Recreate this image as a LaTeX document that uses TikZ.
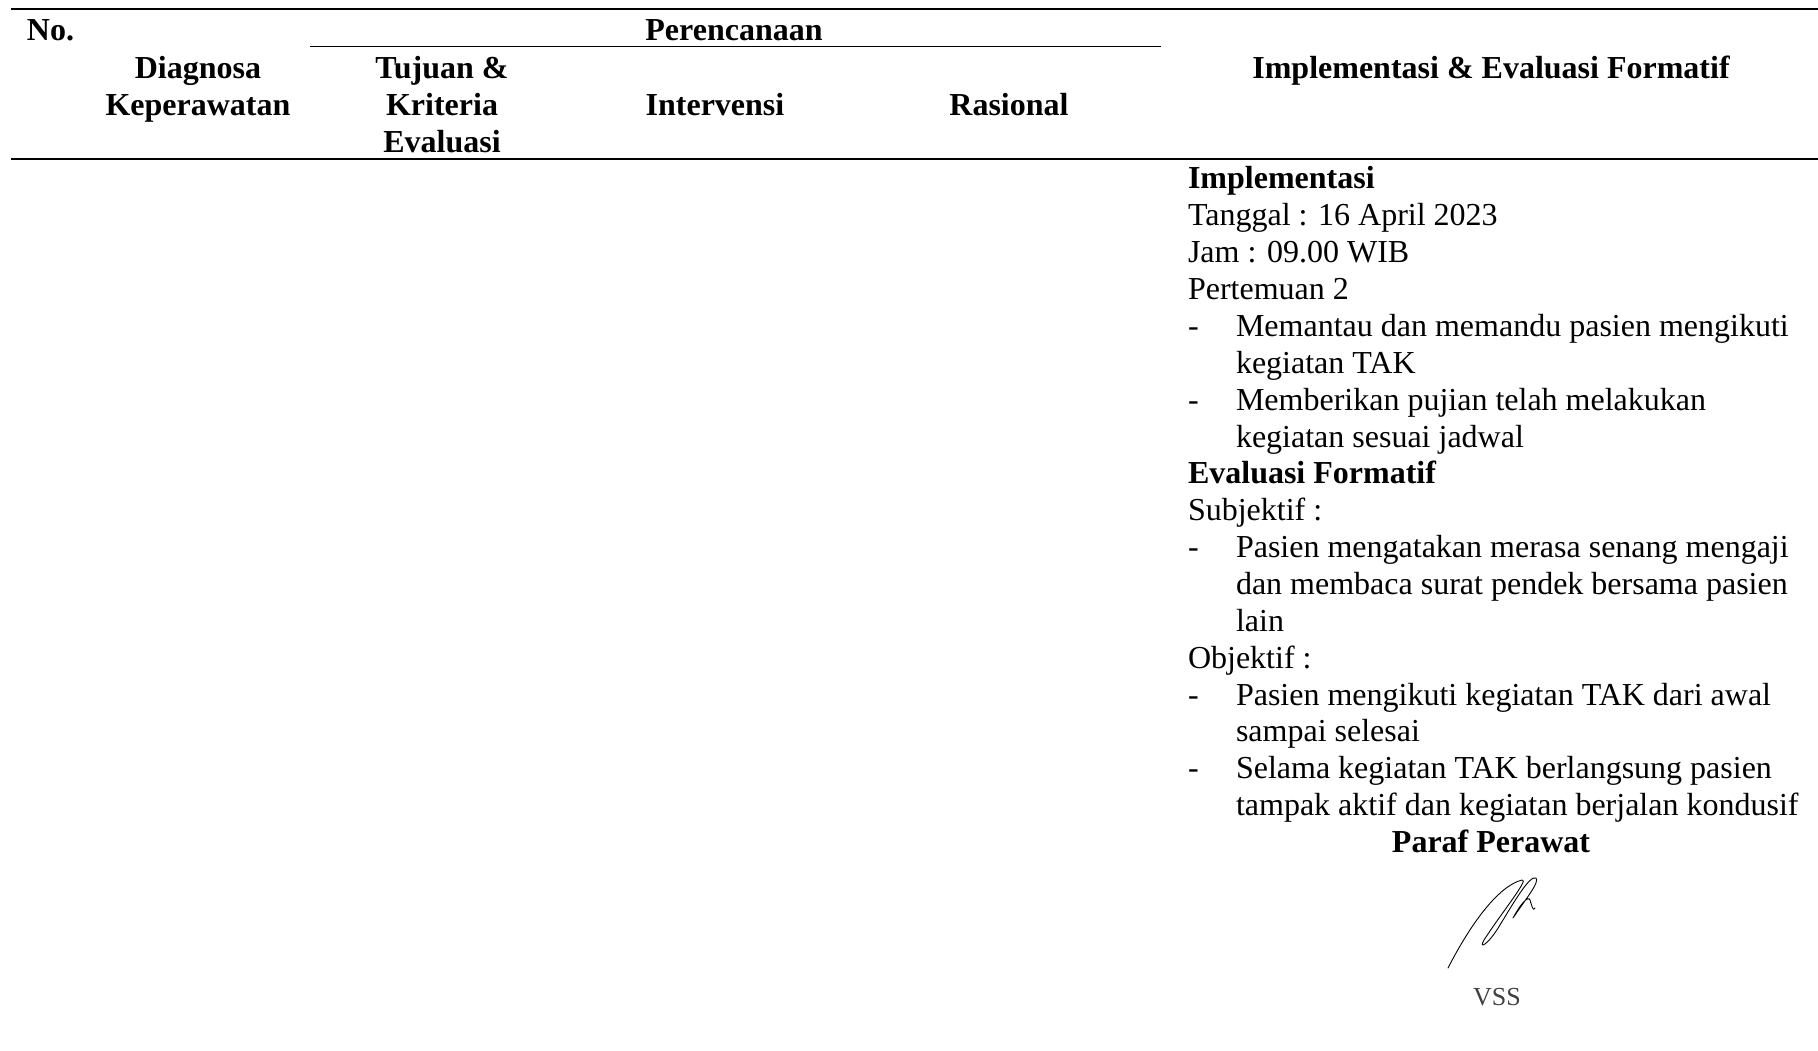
\documentclass[tikz,border=0pt]{standalone}
\usepackage{fontspec}
\setmainfont{Liberation Serif}
\begin{document}
\begin{tikzpicture}[x=1pt,y=-1pt,
  txt/.style={inner sep=0pt, outer sep=0pt, font=\fontsize{32}{37}\selectfont},
  head/.style={txt, font=\fontsize{32}{37}\selectfont\bfseries, anchor=base},
  body/.style={txt, anchor=base west},
  bodyb/.style={body, font=\fontsize{32}{37}\selectfont\bfseries},
  rule/.style={line width=1.7pt},
  thinrule/.style={line width=1.3pt},
  sig/.style={line width=0.9pt, line cap=round, line join=round},
]
\useasboundingbox (0,0) rectangle (1818,1051);

% table rules
\coordinate (topL) at (11,9.3);
\coordinate (topR) at (1818,9.3);
\coordinate (planL) at (310,46.7);
\coordinate (planR) at (1161,46.7);
\coordinate (midL) at (11,159);
\coordinate (midR) at (1818,159);
\draw[rule] (topL) -- (topR);
\draw[thinrule] (planL) -- (planR);
\draw[rule] (midL) -- (midR);

% header
\node[head, anchor=base west] (hNo) at (27,41) {No.};
\node[head] (hPlan) at (734,41) {Perencanaan};
\node[head] (hDiag1) at (198,78.5) {Diagnosa};
\node[head] (hDiag2) at (198,115.5) {Keperawatan};
\node[head] (hTuj1) at (442,78.5) {Tujuan \&};
\node[head] (hTuj2) at (442,115.5) {Kriteria};
\node[head] (hTuj3) at (442,152.5) {Evaluasi};
\node[head] (hInt) at (715,115.5) {Intervensi};
\node[head] (hRas) at (1009,115.5) {Rasional};
\node[head] (hImp) at (1491,78.5) {Implementasi \& Evaluasi Formatif};

% implementation and formative evaluation
\node[bodyb] (l0) at (1188,189) {Implementasi};
\node[body] (l1) at (1188,225.9) {Tanggal : 16 April 2023};
\node[body] (l2) at (1188,262.7) {Jam : 09.00 WIB};
\node[body] (l3) at (1188,299.6) {Pertemuan 2};
\node[body] (d4) at (1188,336.4) {-};
\node[body] (l4) at (1236,336.4) {Memantau dan memandu pasien mengikuti};
\node[body] (l5) at (1236,373.3) {kegiatan TAK};
\node[body] (d6) at (1188,410.2) {-};
\node[body] (l6) at (1236,410.2) {Memberikan pujian telah melakukan};
\node[body] (l7) at (1236,447.0) {kegiatan sesuai jadwal};
\node[bodyb] (l8) at (1188,483.9) {Evaluasi Formatif};
\node[body] (l9) at (1188,520.7) {Subjektif :};
\node[body] (d10) at (1188,557.6) {-};
\node[body] (l10) at (1236,557.6) {Pasien mengatakan merasa senang mengaji};
\node[body] (l11) at (1236,594.5) {dan membaca surat pendek bersama pasien};
\node[body] (l12) at (1236,631.3) {lain};
\node[body] (l13) at (1188,668.2) {Objektif :};
\node[body] (d14) at (1188,705.0) {-};
\node[body] (l14) at (1236,705.0) {Pasien mengikuti kegiatan TAK dari awal};
\node[body] (l15) at (1236,741.9) {sampai selesai};
\node[body] (d16) at (1188,778.8) {-};
\node[body] (l16) at (1236,778.8) {Selama kegiatan TAK berlangsung pasien};
\node[body] (l17) at (1236,815.6) {tampak aktif dan kegiatan berjalan kondusif};
\node[head] (paraf) at (1491,852) {Paraf Perawat};

% nurse's signature
\draw[sig] (1448,968) .. controls (1470,925) and (1498,886) .. (1522,880)
  .. controls (1530,878) and (1500,915) .. (1484,940)
  .. controls (1478,950) and (1488,945) .. (1500,925)
  .. controls (1515,900) and (1530,875) .. (1536,878)
  .. controls (1540,882) and (1525,900) .. (1513,918)
  .. controls (1520,905) and (1528,895) .. (1530,900)
  .. controls (1532,906) and (1533,912) .. (1535,908);
\node[txt, anchor=base, font=\fontsize{26}{30}\selectfont, text=black!75] (vss) at (1497,1005) {VSS};
\end{tikzpicture}
\end{document}
